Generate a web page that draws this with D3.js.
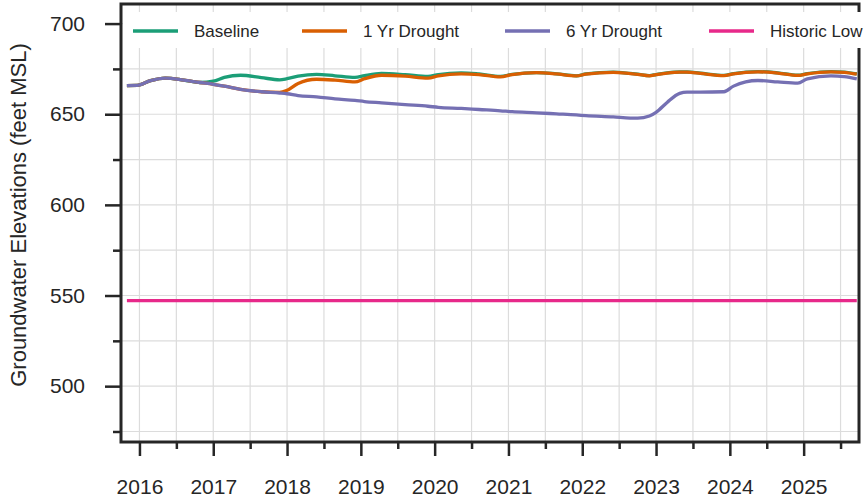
<!DOCTYPE html>
<html>
<head>
<meta charset="utf-8">
<script src="https://cdn.jsdelivr.net/npm/d3@7/dist/d3.min.js"></script>
<style>
  html, body { margin: 0; padding: 0; background: #fff; }
  svg { display: block; font-family: "Liberation Sans", Arial, Helvetica, sans-serif; }
</style>
</head>
<body>
<svg id="chart" width="865" height="501"></svg>
<script>
// Sample times (decimal years, water years Oct 2015 – Sep 2025)
const times = [
  2015.83, 2015.97, 2016.15, 2016.35, 2016.6, 2016.82,
  2017.0, 2017.15, 2017.37, 2017.65, 2017.9,
  2018.0, 2018.15, 2018.4, 2018.65, 2018.92,
  2019.05, 2019.28, 2019.6, 2019.91,
  2020.05, 2020.36, 2020.6, 2020.89,
  2021.05, 2021.38, 2021.65, 2021.92,
  2022.05, 2022.42, 2022.65, 2022.75, 2022.91,
  2023.0, 2023.15, 2023.32, 2023.42, 2023.6, 2023.92,
  2024.05, 2024.38, 2024.65, 2024.92,
  2025.05, 2025.37, 2025.55, 2025.72
];

// Groundwater elevations (feet MSL) per scenario
const baseline = [
  665.8, 665.9, 668.5, 669.9, 668.8, 667.5,
  668.2, 670.3, 671.5, 670.2, 669.0,
  669.6, 671.0, 672.0, 671.2, 670.3,
  671.3, 672.5, 671.8, 670.8,
  671.9, 672.8, 672.2, 670.9,
  672.0, 673.0, 672.3, 671.2,
  672.2, 673.2, 672.5, 672.1, 671.3,
  671.9, 672.8, 673.3, 673.3, 672.6, 671.4,
  672.4, 673.5, 672.8, 671.5,
  672.4, 673.5, 673.2, 672.2
];
const drought1 = [
  665.8, 665.9, 668.5, 669.9, 668.8, 667.5,
  666.5, 665.5, 663.7, 662.4, 662.0,
  663.2, 667.0, 669.3, 668.8, 667.8,
  669.6, 671.5, 671.0, 669.9,
  671.2, 672.3, 671.9, 670.6,
  671.9, 672.9, 672.2, 671.1,
  672.1, 673.1, 672.4, 672.0, 671.2,
  671.8, 672.7, 673.2, 673.2, 672.5, 671.3,
  672.3, 673.4, 672.7, 671.4,
  672.3, 673.4, 673.1, 672.1
];
const drought6 = [
  665.8, 665.9, 668.5, 669.9, 668.8, 667.5,
  666.5, 665.5, 663.7, 662.4, 661.7,
  661.3, 660.3, 659.6, 658.5, 657.6,
  657.0, 656.3, 655.3, 654.4,
  653.8, 653.2, 652.6, 651.9,
  651.4, 650.8, 650.2, 649.6,
  649.2, 648.5, 647.9, 647.8, 649.0,
  651.0, 656.5, 661.5, 662.2, 662.2, 662.4,
  665.5, 668.6, 667.8, 667.1,
  669.5, 671.2, 670.8, 669.5
];
const historicLow = times.map(() => 547.2);

const seriesNames = ["Baseline", "1 Yr Drought", "6 Yr Drought", "Historic Low"];
const seriesColors = ["#1b9e77", "#d95f02", "#7570b3", "#e7298a"];
const seriesValues = [baseline, drought1, drought6, historicLow];

const yearTicks = [2016, 2017, 2018, 2019, 2020, 2021, 2022, 2023, 2024, 2025];
const halfYearTicks = [2016.5, 2017.5, 2018.5, 2019.5, 2020.5, 2021.5, 2022.5, 2023.5, 2024.5, 2025.5];
const elevTicks = [500, 550, 600, 650, 700];
const elevMinorTicks = [475, 525, 575, 625, 675];

const yTitle = "Groundwater Elevations (feet MSL)";

// Layout
const plot = { left: 121, right: 859, top: 4, bottom: 442 };
const ink = "#262626";

const svg = d3.select("#chart");

const x = d3.scaleLinear().domain([2015.75, 2025.75]).range([plot.left, plot.right]);
const y = d3.scaleLinear().domain([469.2, 710.8]).range([plot.bottom, plot.top]);

// Grid
const grid = svg.append("g").attr("stroke", "#dcdcdc").attr("stroke-width", 1.2);
grid.selectAll("line.v")
  .data(yearTicks.concat(halfYearTicks))
  .join("line")
  .attr("x1", d => x(d)).attr("x2", d => x(d))
  .attr("y1", plot.top).attr("y2", plot.bottom);
grid.selectAll("line.h")
  .data(elevTicks.concat(elevMinorTicks))
  .join("line")
  .attr("x1", plot.left).attr("x2", plot.right)
  .attr("y1", d => y(d)).attr("y2", d => y(d));

// Series lines
const line = d3.line()
  .x(d => x(d[0]))
  .y(d => y(d[1]))
  .curve(d3.curveMonotoneX);

seriesValues.forEach((vals, i) => {
  svg.append("path")
    .datum(times.map((t, j) => [t, vals[j]]))
    .attr("fill", "none")
    .attr("stroke", seriesColors[i])
    .attr("stroke-width", 3.3)
    .attr("stroke-linejoin", "round")
    .attr("d", line);
});

// Axes
function styleAxis(g) {
  g.select(".domain").remove();
  g.selectAll(".tick line").attr("stroke", ink).attr("stroke-width", 2.5);
  g.selectAll(".tick text").attr("fill", ink).attr("font-size", 21)
    .attr("font-family", "'Liberation Sans', Arial, sans-serif");
}

svg.append("g")
  .attr("transform", `translate(${plot.left},0)`)
  .call(d3.axisLeft(y).tickValues(elevTicks).tickSize(16).tickPadding(20).tickFormat(d3.format("d")))
  .call(styleAxis);
svg.append("g")
  .attr("transform", `translate(${plot.left},0)`)
  .call(d3.axisLeft(y).tickValues(elevMinorTicks).tickSize(8).tickFormat(""))
  .call(styleAxis);

svg.append("g")
  .attr("transform", `translate(0,${plot.bottom})`)
  .call(d3.axisBottom(x).tickValues(yearTicks).tickSize(14).tickPadding(23).tickFormat(d3.format("d")))
  .call(styleAxis);
svg.append("g")
  .attr("transform", `translate(0,${plot.bottom})`)
  .call(d3.axisBottom(x).tickValues(halfYearTicks).tickSize(7).tickFormat(""))
  .call(styleAxis);

// Frame
svg.append("rect")
  .attr("x", plot.left).attr("y", plot.top)
  .attr("width", plot.right - plot.left).attr("height", plot.bottom - plot.top)
  .attr("fill", "none").attr("stroke", ink).attr("stroke-width", 3);

// Y title
svg.append("text")
  .attr("transform", `translate(26,${(plot.top + plot.bottom) / 2 - 8}) rotate(-90)`)
  .attr("text-anchor", "middle")
  .attr("fill", ink)
  .attr("font-size", 22)
  .text(yTitle);

// Legend
const legend = svg.append("g");
legend.append("rect")
  .attr("x", 123).attr("y", 12).attr("width", 745).attr("height", 36)
  .attr("fill", "#fff");
const legendX = [133, 302, 505, 709];
seriesNames.forEach((name, i) => {
  const g = legend.append("g").attr("transform", `translate(${legendX[i]},31)`);
  g.append("line").attr("x1", 0).attr("x2", 45).attr("y1", 0).attr("y2", 0)
    .attr("stroke", seriesColors[i]).attr("stroke-width", 3.3);
  g.append("text").attr("x", 61).attr("dy", "0.35em")
    .attr("fill", ink).attr("font-size", 17).text(name);
});
</script>
</body>
</html>
